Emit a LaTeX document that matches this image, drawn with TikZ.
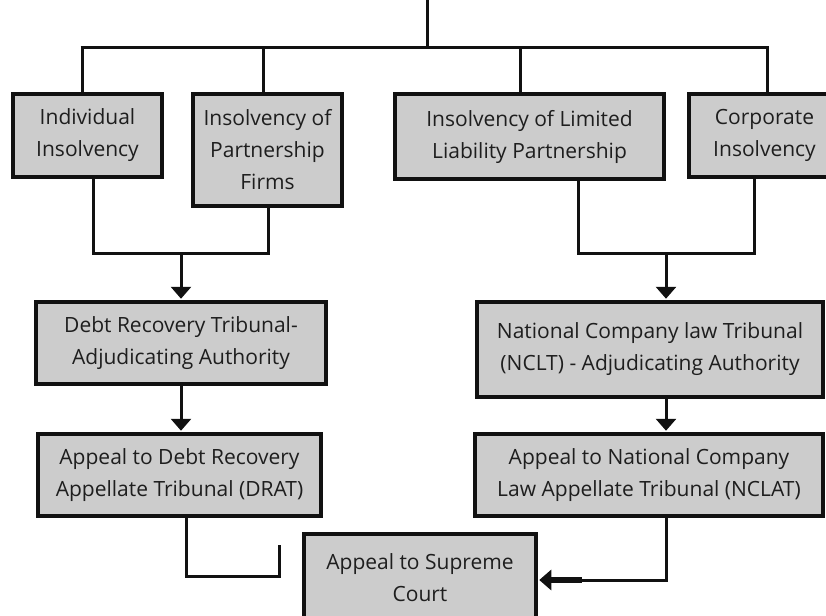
\documentclass[tikz,border=0pt]{standalone}
\usepackage{fontspec}
\setmainfont{Open Sans}
\usetikzlibrary{arrows.meta}
\definecolor{boxgray}{HTML}{CCCCCC}
\definecolor{txt}{HTML}{1E1E1E}
\definecolor{edge}{HTML}{111111}
\begin{document}
\begin{tikzpicture}[x=1pt,y=-1pt,
  box/.style={draw=edge, line width=3.5pt, fill=boxgray, text=txt, align=center,
    inner sep=0pt, font=\fontsize{21}{32}\selectfont},
  ln/.style={draw=edge, line width=3pt, line join=miter},
  arr/.style={ln, -{Triangle[width=20pt,length=12pt]}, shorten >=1.5pt}]
\useasboundingbox (0,0) rectangle (826,615);

% boxes
\node[box, minimum width=149pt, minimum height=83pt] (ind) at (87.5,135.5) {Individual\\Insolvency};
\node[box, minimum width=149pt, minimum height=112pt] (part) at (267.5,150) {Insolvency of\\Partnership\\Firms};
\node[box, minimum width=269pt, minimum height=85pt] (llp) at (529.5,136.5) {Insolvency of Limited\\Liability Partnership};
\node[box, minimum width=151pt, minimum height=83pt] (corp) at (764.5,135.5) {Corporate\\Insolvency};
\node[box, minimum width=290pt, minimum height=82pt] (drt) at (181,343) {Debt Recovery Tribunal-\\Adjudicating Authority};
\node[box, minimum width=346pt, minimum height=95pt] (nclt) at (650,349.5) {National Company law Tribunal\\(NCLT) - Adjudicating Authority};
\node[box, minimum width=283pt, minimum height=82pt] (drat) at (179.5,475) {Appeal to Debt Recovery\\Appellate Tribunal (DRAT)};
\node[box, minimum width=348pt, minimum height=82pt] (nclat) at (649,475) {Appeal to National Company\\Law Appellate Tribunal (NCLAT)};
\node[box, minimum width=232pt, minimum height=88pt] (sc) at (420,578) {Appeal to Supreme\\Court};

% top bus
\coordinate (top) at (427,0);
\coordinate (busL) at (80.5,48);
\coordinate (busR) at (768.5,48);
\coordinate (d1) at (82,48);
\coordinate (d2) at (263,48);
\coordinate (d3) at (520,48);
\coordinate (d4) at (767,48);
\draw[ln] (top) -- (top |- busL);
\draw[ln] (busL) -- (busR);
\draw[ln] (d1) -- (d1 |- ind.north);
\draw[ln] (d2) -- (d2 |- part.north);
\draw[ln] (d3) -- (d3 |- llp.north);
\draw[ln] (d4) -- (d4 |- corp.north);

% merges
\coordinate (jL) at (93,253);
\coordinate (jR) at (268,253);
\coordinate (m1) at (181,253);
\draw[ln] (jL |- ind.south) -- (jL) -- (jR) -- (jR |- part.south);
\draw[arr] (m1) -- (m1 |- drt.north);

\coordinate (kL) at (578,253);
\coordinate (kR) at (754,253);
\coordinate (m2) at (666,253);
\draw[ln] (kL |- llp.south) -- (kL) -- (kR) -- (kR |- corp.south);
\draw[arr] (m2) -- (m2 |- nclt.north);

% appeals
\draw[arr] (m1 |- drt.south) -- (m1 |- drat.north);
\draw[arr] (m2 |- nclt.south) -- (m2 |- nclat.north);

% to supreme court
\coordinate (e1) at (186,576);
\coordinate (e2) at (279,576);
\coordinate (e3) at (279,545);
\draw[ln] (e1 |- drat.south) -- (e1) -- (e2) -- (e3);

\coordinate (f1) at (666,580);
\coordinate (g) at (f1 -| sc.east);
\draw[arr] (f1 |- nclat.south) -- (f1) -- (g);
\draw[draw=edge, line width=6pt] ([xshift=10pt]g) -- ([xshift=44pt]g);
\end{tikzpicture}
\end{document}
